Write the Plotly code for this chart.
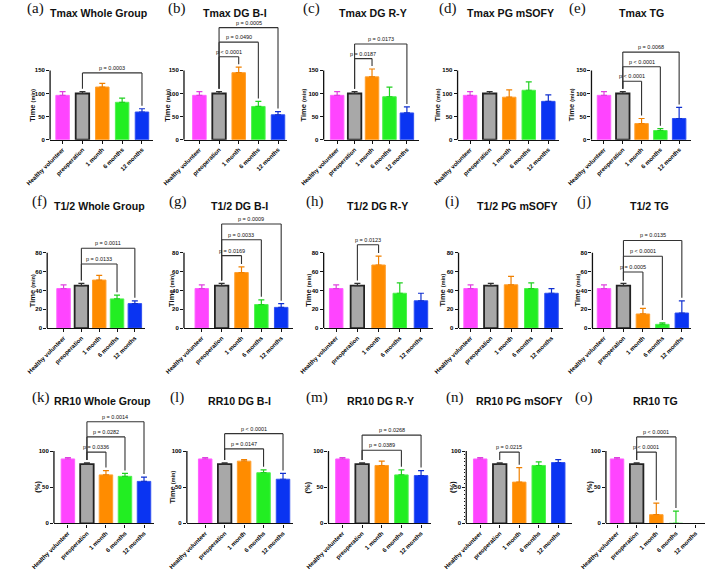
import plotly.graph_objects as go

# ---------------- data ----------------
categories = ["Healthy volunteer", "preoperation", "1 month", "6 months", "12 months"]

tmax_whole = [96, 100, 114, 81, 60]
tmax_whole_err = [8, 4, 8, 9, 7]
tmax_dg_bi = [96, 100, 145, 72, 54]
tmax_dg_bi_err = [8, 4, 12, 11, 7]
tmax_dg_ry = [96, 100, 136, 93, 58]
tmax_dg_ry_err = [8, 4, 17, 21, 13]
tmax_pg = [96, 100, 92, 107, 83]
tmax_pg_err = [8, 4, 16, 18, 14]
tmax_tg = [96, 100, 35, 20, 46]
tmax_tg_err = [8, 4, 11, 4, 24]

t12_whole = [42, 45, 51, 31, 26]
t12_whole_err = [4, 2.5, 5, 4, 3]
t12_dg_bi = [42, 45, 59, 25, 22]
t12_dg_bi_err = [4, 2.5, 6, 5, 4]
t12_dg_ry = [42, 45, 67, 37, 29]
t12_dg_ry_err = [4, 2.5, 9.5, 11, 8]
t12_pg = [42, 45, 46, 42, 37]
t12_pg_err = [4, 2.5, 9, 6, 5]
t12_tg = [42, 45, 15, 4, 16]
t12_tg_err = [4, 2.5, 6, 1.5, 13]

rr10_whole = [89, 82, 67, 65, 58]
rr10_whole_err = [2, 1.5, 6, 4, 6]
rr10_dg_bi = [89, 82, 86, 70, 61]
rr10_dg_bi_err = [2, 1.5, 2, 4, 8]
rr10_dg_ry = [89, 82, 80, 67, 66]
rr10_dg_ry_err = [2, 1.5, 6, 7, 7]
rr10_pg = [89, 82, 57, 80, 84]
rr10_pg_err = [2, 1.5, 20, 5, 4]
rr10_tg = [89, 82, 12, 0, None]
rr10_tg_err = [2, 1.5, 16, 17, None]

comps_a = [(1, 4, "p = 0.0003")]
comps_b = [(1, 2, "p < 0.0001"), (1, 3, "p = 0.0490"), (1, 4, "p = 0.0005")]
comps_c = [(1, 2, "p = 0.0187"), (1, 4, "p = 0.0173")]
comps_d = []
comps_e = [(1, 2, "p < 0.0001"), (1, 3, "p < 0.0001"), (1, 4, "p = 0.0068")]
comps_f = [(1, 3, "p = 0.0133"), (1, 4, "p = 0.0011")]
comps_g = [(1, 2, "p = 0.0169"), (1, 3, "p = 0.0033"), (1, 4, "p = 0.0009")]
comps_h = [(1, 2, "p = 0.0123")]
comps_i = []
comps_j = [(1, 2, "p = 0.0005"), (1, 3, "p < 0.0001"), (1, 4, "p = 0.0135")]
comps_k = [(1, 2, "p = 0.0336"), (1, 3, "p = 0.0282"), (1, 4, "p = 0.0014")]
comps_l = [(1, 3, "p = 0.0147"), (1, 4, "p < 0.0001")]
comps_m = [(1, 3, "p = 0.0389"), (1, 4, "p = 0.0268")]
comps_n = [(1, 2, "p = 0.0215")]
comps_o = [(1, 2, "p < 0.0001"), (1, 3, "p < 0.0001")]

bar_colors = ["#FF44FF", "#A8A8A8", "#FF8C00", "#22EE22", "#0A34F2"]
err_colors = ["#E040E0", "#333333", "#F08000", "#20D020", "#1030D0"]
line_colors = ["#FF60FF", "#222222", "#FFA030", "#50F050", "#3050F0"]
line_widths = [1, 1.8, 1, 1, 1]

# ---------------- layout geometry (pixels) ----------------
W, H = 709, 570
rows = [
    dict(bottom=141, top=14, ppu=70 / 150, tickmax=150, tickvals=[0, 50, 100, 150], title_y=13, label_y=9),
    dict(bottom=331, top=204, ppu=76 / 80, tickmax=80, tickvals=[0, 20, 40, 60, 80], title_y=208, label_y=203),
    dict(bottom=528, top=394, ppu=73 / 100, tickmax=100, tickvals=[0, 50, 100], title_y=405, label_y=401),
]

panels = [
    dict(lab="(a)", title="Tmax Whole Group", v=tmax_whole, e=tmax_whole_err, c=comps_a, yt="Time (min)", r=0,
         L=25, c0=38, s=20.6, R=132, tx=76, lx=10, ytx=6),
    dict(lab="(b)", title="Tmax DG B-I", v=tmax_dg_bi, e=tmax_dg_bi_err, c=comps_b, yt="Time (min)", r=0,
         L=164, c0=180, s=20.4, R=271, tx=217, lx=157, ytx=146),
    dict(lab="(c)", title="Tmax DG R-Y", v=tmax_dg_ry, e=tmax_dg_ry_err, c=comps_c, yt="Time (min)", r=0,
         L=309, c0=323, s=18.1, R=408, tx=360, lx=296, ytx=288),
    dict(lab="(d)", title="Tmax PG mSOFY", v=tmax_pg, e=tmax_pg_err, c=comps_d, yt="Time (min)", r=0,
         L=448, c0=461, s=20.3, R=553, tx=503, lx=438, ytx=427),
    dict(lab="(e)", title="Tmax TG", v=tmax_tg, e=tmax_tg_err, c=comps_e, yt="Time (min)", r=0,
         L=587, c0=600, s=19.5, R=690, tx=639, lx=573, ytx=566),
    dict(lab="(f)", title="T1/2 Whole Group", v=t12_whole, e=t12_whole_err, c=comps_f, yt="Time (min)", r=1,
         L=22, c0=39, s=18.5, R=124, tx=76, lx=14, ytx=7),
    dict(lab="(g)", title="T1/2 DG B-I", v=t12_dg_bi, e=t12_dg_bi_err, c=comps_g, yt="Time (min)", r=1,
         L=164, c0=182.5, s=20.6, R=277, tx=222, lx=158, ytx=151),
    dict(lab="(h)", title="T1/2 DG R-Y", v=t12_dg_ry, e=t12_dg_ry_err, c=comps_h, yt="Time (min)", r=1,
         L=309, c0=322, s=22, R=422, tx=365, lx=300, ytx=293),
    dict(lab="(i)", title="T1/2 PG mSOFY", v=t12_pg, e=t12_pg_err, c=comps_i, yt="Time (min)", r=1,
         L=449, c0=461.5, s=21, R=557, tx=510, lx=442, ytx=432),
    dict(lab="(j)", title="T1/2 TG", v=t12_tg, e=t12_tg_err, c=comps_j, yt="Time (min)", r=1,
         L=588, c0=600, s=20.2, R=690, tx=647, lx=579, ytx=572),
    dict(lab="(k)", title="RR10 Whole Group", v=rr10_whole, e=rr10_whole_err, c=comps_k, yt="(%)", r=2,
         L=29, c0=43.5, s=19.75, R=133, tx=79, lx=16, ytx=12),
    dict(lab="(l)", title="RR10 DG B-I", v=rr10_dg_bi, e=rr10_dg_bi_err, c=comps_l, yt="Time (min)", r=2,
         L=167, c0=186, s=20.2, R=277, tx=222, lx=157, ytx=152),
    dict(lab="(m)", title="RR10 DG R-Y", v=rr10_dg_ry, e=rr10_dg_ry_err, c=comps_m, yt="(%)", r=2,
         L=314, c0=328.5, s=20.4, R=420, tx=368, lx=302, ytx=292),
    dict(lab="(n)", title="RR10 PG mSOFY", v=rr10_pg, e=rr10_pg_err, c=comps_n, yt="(%)", r=2,
         L=457, c0=471.5, s=20.25, R=567, tx=512, lx=445, ytx=442),
    dict(lab="(o)", title="RR10 TG", v=rr10_tg, e=rr10_tg_err, c=comps_o, yt="(%)", r=2,
         L=602, c0=613.5, s=20.4, R=705, tx=653, lx=579, ytx=585),
]

FONT = "Liberation Sans, Arial, sans-serif"
SERIF = "Liberation Serif, Times New Roman, serif"
INK = "#111111"

fig = go.Figure()
layout = dict(width=W, height=H, margin=dict(l=0, r=0, t=0, b=0),
              paper_bgcolor="white", plot_bgcolor="white", showlegend=False,
              barmode="overlay")
shapes = []
annotations = []


def px_x(p):
    return p / W


def px_y(p):
    return 1 - p / H


for n, p in enumerate(panels, start=1):
    g = rows[p["r"]]
    xs = "" if n == 1 else str(n)
    xref, yref = "x" + xs, "y" + xs
    s = p["s"]
    bw = 14 / s
    xr = [(p["L"] - p["c0"]) / s, (p["R"] - p["c0"]) / s]
    ymax = (g["bottom"] - g["top"]) / g["ppu"]

    for i, cat in enumerate(categories):
        val = p["v"][i]
        err = p["e"][i]
        if val is None:
            continue
        fig.add_trace(go.Bar(
            x=[i], y=[val], width=bw, xaxis=xref, yaxis=yref,
            marker=dict(color=bar_colors[i], line=dict(color=line_colors[i], width=line_widths[i])),
            error_y=dict(type="data", symmetric=False, array=[err], arrayminus=[0],
                         color=err_colors[i], thickness=1.2, width=3),
            name=cat, hoverinfo="skip"))

    layout["xaxis" + xs] = dict(
        domain=[px_x(p["L"]), px_x(p["R"])], range=xr, anchor=yref,
        tickvals=list(range(len(categories))), ticktext=categories, tickangle=-45,
        showline=True, linecolor=INK, linewidth=1.3, ticks="outside", ticklen=3, tickwidth=1.1,
        tickcolor=INK, showgrid=False, zeroline=False,
        tickfont=dict(family=FONT, size=6, color="#000000", weight="bold"), fixedrange=True)
    ya = dict(
        domain=[px_y(g["bottom"]), px_y(g["top"])], range=[0, ymax], anchor=xref,
        tickvals=g["tickvals"], showline=False, ticks="outside", ticklen=3, tickwidth=1.1,
        tickcolor=INK, showgrid=False, zeroline=False,
        tickfont=dict(family=FONT, size=6, color="#000000", weight="bold"), fixedrange=True)
    if p["lab"] == "(n)":
        ya["minor"] = dict(ticks="outside", ticklen=1.5, tickwidth=0.8, tickcolor=INK,
                           tickvals=list(range(0, g["tickmax"] + 1, 5)))
    layout["yaxis" + xs] = ya

    # y axis line only from 0 to top tick (Prism style)
    shapes.append(dict(type="line", xref=xref + " domain", yref=yref, x0=0, x1=0, y0=0, y1=g["tickmax"],
                       line=dict(color=INK, width=1.3)))

    # significance brackets
    tops = [(v or 0) + (e or 0) for v, e in zip(p["v"], p["e"])]
    gap = 0.15 * g["tickmax"]
    step = 0.21 * g["tickmax"]
    drop_gap = 3 / g["ppu"]
    prev = None
    for (i, j, txt) in p["c"]:
        level = max(tops[i:j + 1]) + gap
        if prev is not None:
            level = max(level, prev + step)
        prev = level
        lw = dict(color="#333333", width=1.1)
        shapes.append(dict(type="line", xref=xref, yref=yref, x0=i, x1=i, y0=tops[i] + drop_gap, y1=level, line=lw))
        shapes.append(dict(type="line", xref=xref, yref=yref, x0=i, x1=j, y0=level, y1=level, line=lw))
        shapes.append(dict(type="line", xref=xref, yref=yref, x0=j, x1=j, y0=tops[j] + drop_gap, y1=level, line=lw))
        annotations.append(dict(xref=xref, yref=yref, x=(i + j) / 2, y=level, text=txt, showarrow=False,
                                yanchor="bottom", xanchor="center", yshift=1, borderpad=0,
                                font=dict(family=FONT, size=5.5, color=INK)))

    # titles
    annotations.append(dict(xref="paper", yref="paper", x=px_x(p["tx"]), y=px_y(g["title_y"]),
                            text="<b>" + p["title"] + "</b>", showarrow=False, xanchor="center", yanchor="middle",
                            font=dict(family=FONT, size=10.6, color=INK)))
    annotations.append(dict(xref="paper", yref="paper", x=px_x(p["lx"]), y=px_y(g["label_y"]),
                            text=p["lab"], showarrow=False, xanchor="center", yanchor="middle",
                            font=dict(family=SERIF, size=15, color=INK)))
    # y-axis title
    if p["yt"] == "Time (min)":
        yt = "<b>Time <span style='font-size:5.5px'>(min)</span></b>"
    else:
        yt = "<b>" + p["yt"] + "</b>"
    annotations.append(dict(xref="paper", yref=yref, x=px_x(p["ytx"]), y=g["tickmax"] / 2,
                            text=yt, showarrow=False, textangle=-90, xanchor="center", yanchor="middle",
                            font=dict(family=FONT, size=7.5, color=INK)))

layout["shapes"] = shapes
layout["annotations"] = annotations
fig.update_layout(**layout)
fig.write_html("out.html")
